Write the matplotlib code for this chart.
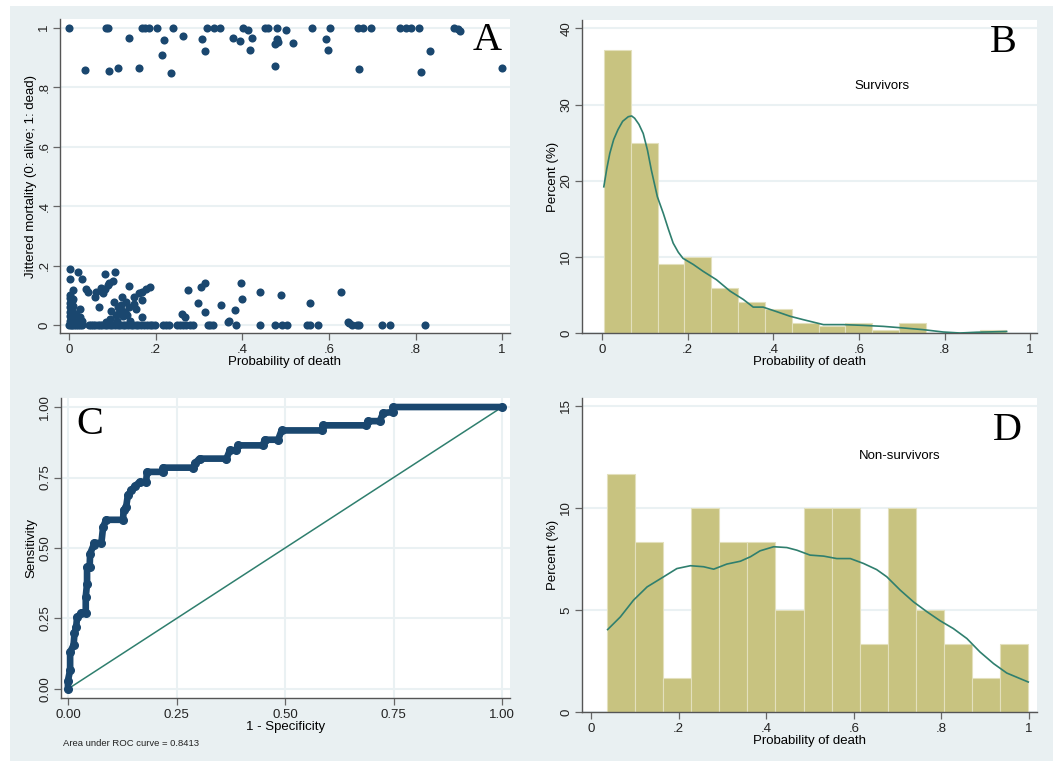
import numpy as np
import matplotlib.pyplot as plt
from matplotlib.patches import Rectangle

plt.rcParams['font.family'] = ['Liberation Sans', 'DejaVu Sans']

# ---- panel A: jittered mortality vs predicted probability ----
dead_x = [0, 0.086, 0.090, 0.169, 0.176, 0.184, 0.204, 0.241, 0.318, 0.334, 0.348, 0.401,
          0.413, 0.452, 0.460, 0.479, 0.502, 0.562, 0.602, 0.666, 0.678, 0.698, 0.764, 0.777,
          0.789, 0.809, 0.889, 0.897, 0.903,
          0.138, 0.220, 0.262, 0.307, 0.378, 0.394, 0.423, 0.479, 0.483, 0.475, 0.517, 0.593,
          0.314, 0.417, 0.599, 0.214, 0.833, 0.038, 0.093, 0.112, 0.161, 0.235, 0.475, 0.669,
          0.812, 1.0]
dead_y = [1, 1, 1, 1, 1, 1, 1, 1, 1, 1, 1, 1,
          0.992, 1, 1, 1, 0.993, 1, 1, 1, 1, 1, 1, 1,
          1, 1, 1, 0.996, 0.99,
          0.965, 0.957, 0.972, 0.962, 0.965, 0.955, 0.965, 0.962, 0.953, 0.946, 0.947, 0.961,
          0.923, 0.925, 0.925, 0.908, 0.921, 0.858, 0.854, 0.863, 0.865, 0.847, 0.872, 0.862,
          0.850, 0.865]

alive_base_x = [0.0, 0.004, 0.008, 0.012, 0.017, 0.021, 0.026, 0.031, 0.045, 0.05, 0.055, 0.06,
                0.066, 0.071, 0.077, 0.083, 0.088, 0.094, 0.1, 0.106, 0.112, 0.118, 0.124, 0.13,
                0.136, 0.142, 0.148, 0.154, 0.16, 0.167, 0.173, 0.18, 0.186, 0.192, 0.198, 0.218,
                0.224, 0.23, 0.25, 0.256, 0.262, 0.271, 0.279, 0.286, 0.32, 0.326, 0.332, 0.385,
                0.442, 0.476, 0.491, 0.504, 0.549, 0.557, 0.575, 0.654, 0.665, 0.669, 0.723,
                0.742, 0.821]
alive_x = [0.002, 0.002, 0.002, 0.002, 0.002, 0.002, 0.002, 0.006, 0.006, 0.006, 0.01, 0.01,
           0.01, 0.017, 0.025, 0.025, 0.012, 0.02, 0.03,
           0.002, 0.021, 0.002, 0.029, 0.082, 0.106, 0.101, 0.093, 0.089, 0.082, 0.074, 0.139,
           0.040, 0.044, 0.063, 0.059, 0.078, 0.188, 0.177, 0.169, 0.161, 0.150, 0.123, 0.169,
           0.105, 0.120, 0.131, 0.112, 0.139, 0.150, 0.070, 0.154, 0.097, 0.123, 0.169,
           0.108, 0.115, 0.125, 0.13, 0.118, 0.135, 0.095, 0.085, 0.14, 0.11,
           0.275, 0.305, 0.315, 0.298, 0.313, 0.351, 0.398, 0.400, 0.383, 0.442, 0.260, 0.268,
           0.366, 0.37, 0.489, 0.557, 0.628, 0.645, 0.647]
alive_y = [0.015, 0.03, 0.045, 0.06, 0.075, 0.09, 0.1, 0.02, 0.05, 0.08, 0.116, 0.088,
           0.065, 0.037, 0.026, 0.054, 0.012, 0.01, 0.012,
           0.187, 0.178, 0.155, 0.153, 0.172, 0.178, 0.149, 0.142, 0.133, 0.121, 0.124, 0.130,
           0.121, 0.110, 0.110, 0.093, 0.108, 0.128, 0.121, 0.112, 0.108, 0.093, 0.093, 0.085,
           0.076, 0.067, 0.076, 0.060, 0.060, 0.071, 0.060, 0.054, 0.048, 0.048, 0.026,
           0.035, 0.04, 0.03, 0.045, 0.055, 0.035, 0.02, 0.01, 0.015, 0.012,
           0.116, 0.127, 0.142, 0.074, 0.043, 0.067, 0.142, 0.088, 0.052, 0.110, 0.037, 0.026,
           0.011, 0.015, 0.10, 0.073, 0.112, 0.01, 0.005]

# ---- panel B: survivors histogram (percent) + kernel density ----
surv_start = 0.004
surv_width = 0.0627
surv_pct = [37.2, 25.0, 9.1, 10.0, 5.9, 4.1, 3.1, 1.3, 0.9, 1.3, 0.45, 1.3, 0, 0, 0.45]
surv_kx = [0.004, 0.011, 0.018, 0.027, 0.037, 0.048, 0.061, 0.069, 0.076, 0.086, 0.096, 0.106,
           0.115, 0.129, 0.143, 0.155, 0.166, 0.178, 0.189, 0.213,
           0.236, 0.267, 0.299, 0.33, 0.353, 0.376, 0.408, 0.439, 0.47, 0.517, 0.564, 0.61,
           0.657, 0.704, 0.75, 0.797, 0.836, 0.875, 0.945]
surv_ky = [19.2, 21.6, 23.6, 25.4, 26.7, 27.8, 28.4, 28.5, 28.2, 27.4, 26.2, 24.0,
           21.4, 17.9, 15.7, 13.6, 11.8, 10.6, 9.8, 9.0,
           8.1, 7.0, 5.5, 4.4, 3.4, 3.4, 2.8, 2.2, 1.75, 1.1, 1.1, 1.0,
           0.87, 0.66, 0.44, 0.13, 0.0, 0.1, 0.2]

# ---- panel C: ROC curve ----
roc_fpr = [0, 0, 0.005, 0.005, 0.013, 0.015, 0.019, 0.021, 0.031, 0.041, 0.041, 0.044, 0.044,
           0.05, 0.051, 0.059, 0.061, 0.077, 0.081, 0.088, 0.127, 0.128, 0.134, 0.138, 0.146,
           0.154, 0.165, 0.18, 0.182, 0.219, 0.219, 0.288, 0.292, 0.303, 0.365, 0.373, 0.388,
           0.392, 0.449, 0.453, 0.484, 0.492, 0.584, 0.588, 0.687, 0.691, 0.718, 0.726, 0.749,
           0.749, 1.0]
roc_tpr = [0, 0.03, 0.067, 0.13, 0.156, 0.197, 0.22, 0.254, 0.27, 0.27, 0.327, 0.374, 0.433,
           0.433, 0.48, 0.51, 0.518, 0.518, 0.575, 0.6, 0.6, 0.634, 0.646, 0.687, 0.705,
           0.719, 0.734, 0.734, 0.77, 0.77, 0.785, 0.785, 0.8, 0.817, 0.817, 0.847, 0.847,
           0.864, 0.864, 0.884, 0.884, 0.917, 0.917, 0.935, 0.935, 0.95, 0.95, 0.979, 0.982,
           1.0, 1.0]
auc_text = "Area under ROC curve = 0.8413"

# ---- panel D: non-survivors histogram (percent) + kernel density ----
nons_start = 0.0365
nons_width = 0.0641
nons_pct = [11.67, 8.33, 1.67, 10.0, 8.33, 8.33, 5.0, 10.0, 10.0, 3.33, 10.0, 5.0, 3.33, 1.67, 3.33]
nons_kx = [0.038, 0.067, 0.097, 0.128, 0.166, 0.196, 0.227, 0.257, 0.28, 0.31, 0.341, 0.364,
           0.386, 0.417, 0.447, 0.47, 0.5, 0.531, 0.561, 0.592, 0.622, 0.652, 0.675, 0.706,
           0.736, 0.767, 0.797, 0.827, 0.858, 0.888, 0.919, 0.949, 0.979, 0.998]
nons_ky = [4.04, 4.66, 5.48, 6.13, 6.63, 7.03, 7.17, 7.12, 7.0, 7.25, 7.39, 7.61,
           7.9, 8.1, 8.06, 7.93, 7.69, 7.64, 7.52, 7.52, 7.28, 6.98, 6.63, 5.97,
           5.4, 4.91, 4.47, 4.09, 3.6, 2.94, 2.37, 1.91, 1.64, 1.47]

navy = '#1A476F'
teal = '#2F7F6E'
khaki = '#C8C380'
bg = '#E9F0F2'
grid = '#EAF1F3'
W, H = 1053, 761
FS = 9.5

fig = plt.figure(figsize=(W / 100, H / 100), dpi=100)
fig.patch.set_facecolor('white')
fig.patches.append(Rectangle((10 / W, 0), 1 - 10 / W, 1 - 6 / H, transform=fig.transFigure,
                             facecolor=bg, edgecolor='none', zorder=-10))


def make_axes(l, t, r, b):
    ax = fig.add_axes([l / W, 1 - b / H, (r - l) / W, (b - t) / H])
    ax.set_facecolor('white')
    for s in ['top', 'right']:
        ax.spines[s].set_visible(False)
    for s in ['left', 'bottom']:
        ax.spines[s].set_color('#555555')
        ax.spines[s].set_linewidth(1.0)
    ax.tick_params(length=5, width=0.9, color='#666666', labelsize=FS, labelcolor='#222222')
    ax.tick_params(axis='x', pad=3)
    ax.tick_params(axis='y', pad=2)
    ax.set_axisbelow(True)
    ax.grid(axis='y', color=grid, lw=1.5)
    return ax


def ylabels(ax, ticks, labels):
    ax.set_yticks(ticks)
    ax.set_yticklabels(labels, rotation=90, va='center')


def letter(ax, x, y, s, ha):
    ax.text(x, y, s, transform=ax.transAxes, ha=ha, va='baseline',
            fontsize=29, family='Liberation Serif', color='black')


prob_ticks = [0, 0.2, 0.4, 0.6, 0.8, 1]
prob_labels = ['0', '.2', '.4', '.6', '.8', '1']

# A
axA = make_axes(60, 19, 510, 333)
axA.scatter(dead_x, dead_y, s=34, color=navy, linewidths=0, zorder=3)
axA.scatter(alive_base_x, [0] * len(alive_base_x), s=34, color=navy, linewidths=0, zorder=3)
axA.scatter(alive_x, alive_y, s=34, color=navy, linewidths=0, zorder=3)
axA.set_xlim(-0.0208, 1.018)
axA.set_ylim(-0.027, 1.029)
axA.set_xticks(prob_ticks)
axA.set_xticklabels(prob_labels)
ylabels(axA, prob_ticks, prob_labels)
axA.set_xlabel('Probability of death', fontsize=FS, labelpad=0)
axA.set_ylabel('Jittered mortality (0: alive; 1: dead)', fontsize=FS, labelpad=1)
letter(axA, 0.982, 0.90, 'A', 'right')

# B
axB = make_axes(582, 20, 1037, 333)
axB.bar([surv_start + i * surv_width for i in range(len(surv_pct))], surv_pct,
        width=surv_width, align='edge', color=khaki, edgecolor='#E3E0BD', linewidth=0.8, zorder=2)
axB.plot(surv_kx, surv_ky, color=teal, lw=1.2, zorder=3)
axB.set_xlim(-0.047, 1.016)
axB.set_ylim(0, 41.1)
axB.set_xticks(prob_ticks)
axB.set_xticklabels(prob_labels)
ylabels(axB, [0, 10, 20, 30, 40], ['0', '10', '20', '30', '40'])
axB.set_xlabel('Probability of death', fontsize=FS, labelpad=0)
axB.set_ylabel('Percent (%)', fontsize=FS, labelpad=1)
axB.text(0.659, 0.789, 'Survivors', transform=axB.transAxes, ha='center', va='center', fontsize=FS)
letter(axB, 0.955, 0.899, 'B', 'right')

# C
axC = make_axes(61, 398, 510, 698)
axC.grid(axis='x', color=grid, lw=1.5)
axC.plot([0, 1], [0, 1], color=teal, lw=1.1, zorder=2)
axC.plot(roc_fpr, roc_tpr, color=navy, lw=4.8, solid_capstyle='round',
         solid_joinstyle='round', marker='o', ms=5.5, zorder=3)
axC.set_xlim(-0.016, 1.018)
axC.set_ylim(-0.032, 1.032)
roc_ticks = [0, 0.25, 0.5, 0.75, 1]
roc_labels = ['0.00', '0.25', '0.50', '0.75', '1.00']
axC.set_xticks(roc_ticks)
axC.set_xticklabels(roc_labels)
ylabels(axC, roc_ticks, roc_labels)
axC.set_xlabel('1 - Specificity', fontsize=FS, labelpad=0)
axC.set_ylabel('Sensitivity', fontsize=FS, labelpad=1)
letter(axC, 0.035, 0.88, 'C', 'left')
fig.text(62.7 / W, 1 - 743.5 / H, auc_text, ha='left', va='center', fontsize=6.8, color='#222222')

# D
axD = make_axes(582, 398, 1037, 712)
axD.bar([nons_start + i * nons_width for i in range(len(nons_pct))], nons_pct,
        width=nons_width, align='edge', color=khaki, edgecolor='#E3E0BD', linewidth=0.8, zorder=2)
axD.plot(nons_kx, nons_ky, color=teal, lw=1.2, zorder=3)
axD.set_xlim(-0.0205, 1.018)
axD.set_ylim(0, 15.39)
axD.set_xticks(prob_ticks)
axD.set_xticklabels(prob_labels)
ylabels(axD, [0, 5, 10, 15], ['0', '5', '10', '15'])
axD.set_xlabel('Probability of death', fontsize=FS, labelpad=0)
axD.set_ylabel('Percent (%)', fontsize=FS, labelpad=1)
axD.text(0.699, 0.815, 'Non-survivors', transform=axD.transAxes, ha='center', va='center', fontsize=FS)
letter(axD, 0.902, 0.866, 'D', 'left')

fig.savefig('out.png', dpi=100, facecolor=fig.get_facecolor())
